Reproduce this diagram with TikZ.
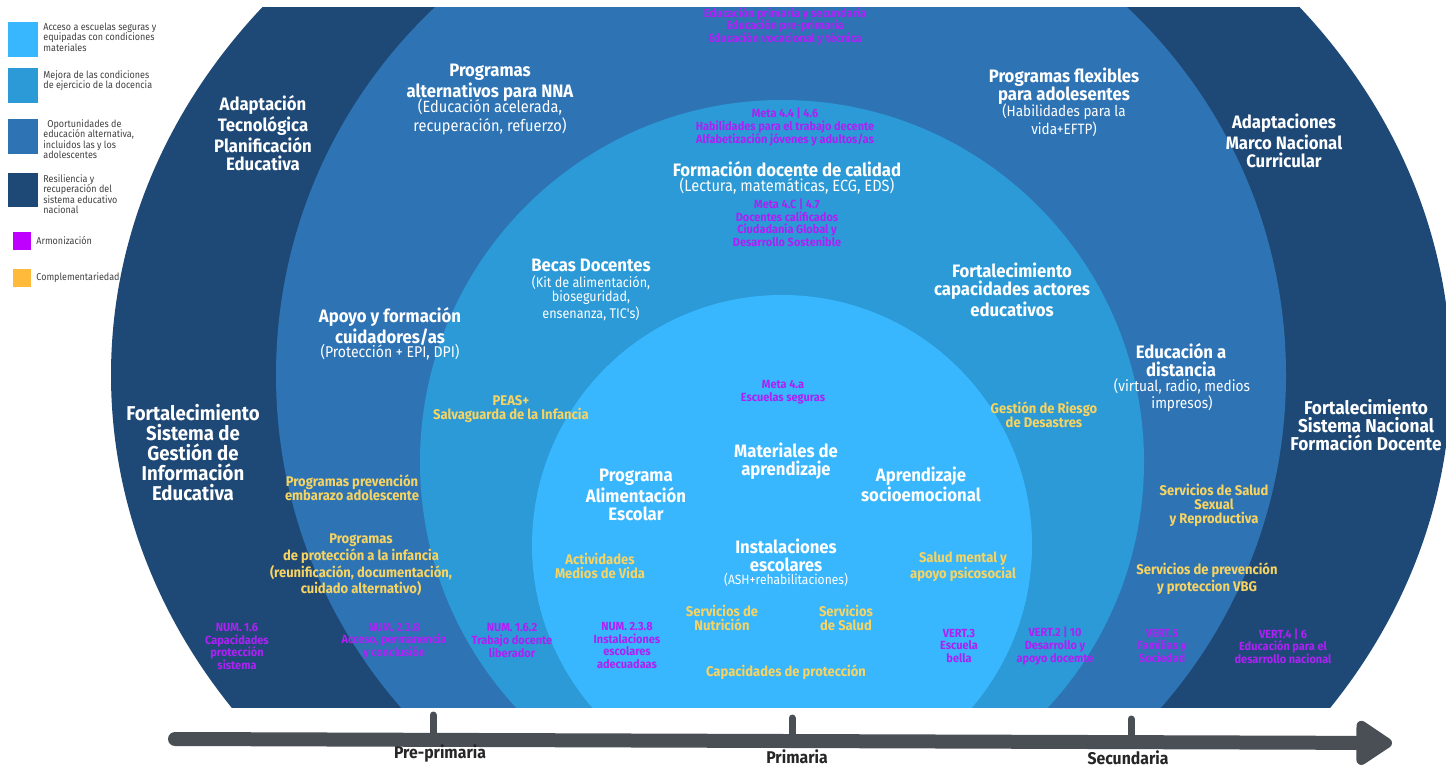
\documentclass[tikz,border=0pt]{standalone}
\usepackage{fontspec}
\setmainfont{Fira Sans}[FakeStretch=0.93]
\newfontfamily\subfont{Fira Sans}[FakeStretch=0.9]
\usepackage{tkz-euclide}
\usetikzlibrary{arrows.meta}

\definecolor{ringnavy}{HTML}{1E4976}
\definecolor{ringmid}{HTML}{2E74B5}
\definecolor{ringsky}{HTML}{2B9AD6}
\definecolor{ringlight}{HTML}{38B6FE}
\definecolor{harmony}{HTML}{AE20F5}
\definecolor{harmonysq}{HTML}{C000FF}
\definecolor{complement}{HTML}{F7D462}
\definecolor{complementsq}{HTML}{FFBA3B}
\definecolor{axisgray}{HTML}{4A4F56}

\tikzset{
    ringtitle/.style={text=white, font=\bfseries\fontsize{9}{9}\selectfont, align=center, inner sep=0pt},
    ringsub/.style={text=white, font=\subfont\fontsize{#1}{7.5}\selectfont, align=center, inner sep=0pt},
    ringsub/.default=8.1,
    metatext/.style={text=harmony, font=\bfseries\fontsize{5.9}{6.3}\selectfont, align=center, inner sep=0pt},
    comptext/.style={text=complement, font=\bfseries\fontsize{7}{7}\selectfont, align=center, inner sep=0pt},
    legtext/.style={text=black!75, font=\subfont\fontsize{5}{5.25}\selectfont, align=left, anchor=west, inner sep=0pt},
    stagetext/.style={text=black!85, font=\bfseries\fontsize{8.5}{8.5}\selectfont, inner sep=0pt}
}

\begin{document}
\begin{tikzpicture}[x=0.5pt, y=-0.5pt]
            \useasboundingbox (0,0) rectangle (1446,769);
            \begin{scope}
            \clip (0,8) rectangle (1446,708);
            \fill[ringnavy] (781,375) ellipse [x radius=670, y radius=581];
            \fill[ringmid] (781,375) circle [radius=505];
            \fill[ringsky] (782,462) circle [radius=362];
            \fill[ringlight] (782,545) circle [radius=250];
            \node[metatext] (edu) at (785,26) {Educación primaria y secundaria\\Educación pre-primaria\\Educación vocacional y técnica};
            \end{scope}
            \fill[ringlight] (8,22) rectangle (38,57);
            \fill[ringsky] (8,68) rectangle (38,103);
            \fill[ringmid] (8,119) rectangle (38,154);
            \fill[ringnavy] (8,173) rectangle (38,207);
            \fill[harmonysq] (13,232) rectangle (31,250);
            \fill[complementsq] (13,269) rectangle (31,287);
            \node[legtext] (leg1) at (43,37) {Acceso a escuelas seguras y\\equipadas con condiciones\\materiales};
            \node[legtext] (leg2) at (43,80.5) {Mejora de las condiciones\\de ejercicio de la docencia};
            \node[legtext] (leg3) at (43,139) {\hspace{2pt}Oportunidades de\\educación alternativa,\\incluidos las y los\\adolescentes};
            \node[legtext] (leg4) at (43,194) {Resiliencia y\\recuperación del\\sistema educativo\\nacional};
            \node[legtext] (leg5) at (36,241) {Armonización};
            \node[legtext] (leg6) at (36,278) {Complementariedad};
            \node[ringtitle] (adapt) at (263,133) {Adaptación\\Tecnológica\\Planificación\\Educativa};
            \node[ringtitle, font=\bfseries\fontsize{10}{10}\selectfont] (sigie) at (193,453) {Fortalecimiento\\Sistema de\\Gestión de\\Información\\Educativa};
            \node[ringtitle] (marco) at (1284,141) {Adaptaciones\\Marco Nacional\\Curricular};
            \node[ringtitle, font=\bfseries\fontsize{9.3}{9}\selectfont] (snfd) at (1366,425) {Fortalecimiento\\Sistema Nacional\\Formación Docente};
            \node[ringtitle] (alt) at (490,82.5) {Programas\\alternativos para NNA};
            \node[ringsub] (altsub) at (490,117) {(Educación acelerada,\\recuperación, refuerzo)};
            \node[ringtitle] (flex) at (1064,86) {Programas flexibles\\para adolesentes};
            \node[ringsub=7.5] (flexsub) at (1064,120.5) {(Habilidades para la\\vida+EFTP)};
            \node[ringtitle] (apoyo) at (390,326.5) {Apoyo y formación\\cuidadores/as};
            \node[ringsub=7.8] (apoyosub) at (390,352) {(Protección + EPI, DPI)};
            \node[ringtitle] (dist) at (1181,360.5) {Educación a\\distancia};
            \node[ringsub=7.6] (distsub) at (1182,395) {(virtual, radio, medios\\impresos)};
            \node[ringtitle] (formdoc) at (787,169) {Formación docente de calidad};
            \node[ringsub] (formdocsub) at (787,186) {(Lectura, matemáticas, ECG, EDS)};
            \node[ringtitle] (becas) at (591,265) {Becas Docentes};
            \node[ringsub=7, font=\subfont\fontsize{7}{7}\selectfont] (becassub) at (591,298) {(Kit de alimentación,\\bioseguridad,\\ensenanza, TIC's)};
            \node[ringtitle] (fortcap) at (1012,290) {Fortalecimiento\\capacidades actores\\educativos};
            \node[ringtitle] (mat) at (786,461) {Materiales de\\aprendizaje};
            \node[ringtitle] (pae) at (636,495) {Programa\\Alimentación\\Escolar};
            \node[ringtitle] (socio) at (921,484.5) {Aprendizaje\\socioemocional};
            \node[ringtitle] (inst) at (786,555.5) {Instalaciones\\escolares};
            \node[ringsub=6.7] (instsub) at (786,580) {(ASH+rehabilitaciones)};
            \node[metatext] (m44) at (785,127) {Meta 4.4 | 4.6\\Habilidades para el trabajo decente\\Alfabetización jóvenes y adultos/as};
            \node[metatext] (m4c) at (787,223) {Meta 4.C | 4.7\\Docentes calificados\\Ciudadanía Global y\\Desarrollo Sostenible};
            \node[metatext] (m4a) at (783,392) {Meta 4.a\\Escuelas seguras};
            \node[metatext] (num16) at (237,646.5) {NUM. 1.6\\Capacidades\\protección\\sistema};
            \node[metatext] (num238) at (394,641) {NUM. 2.3.8\\Acceso, permanencia\\y conclusión};
            \node[metatext] (num162) at (512,640.5) {NUM. 1.6.2\\Trabajo docente\\liberador};
            \node[metatext] (num238b) at (627,645.5) {NUM. 2.3.8\\Instalaciones\\escolares\\adecuadaas};
            \node[metatext] (vert3) at (959,646) {VERT.3\\Escuela\\bella};
            \node[metatext] (vert2) at (1055,646) {VERT.2 | 10\\Desarrollo y\\apoyo docemte};
            \node[metatext] (vert5) at (1162,646) {VERT.5\\Familias y\\Sociedad};
            \node[metatext] (vert4) at (1283,646) {VERT.4 | 6\\Educación para el\\desarrollo nacional};
            \node[comptext] (peas) at (511,409.5) {PEAS+\\Salvaguarda de la Infancia};
            \node[comptext] (riesgo) at (1044,415) {Gestión de Riesgo\\de Desastres};
            \node[comptext] (embarazo) at (352,488) {Programas prevención\\embarazo adolescente};
            \node[comptext] (infancia) at (361,565) {Programas\\de protección a la infancia\\(reunificación, documentación,\\cuidado alternativo)};
            \node[comptext] (ssr) at (1214,505) {Servicios de Salud\\Sexual\\y Reproductiva};
            \node[comptext] (vbg) at (1207,578.5) {Servicios de prevención\\y proteccion VBG};
            \node[comptext] (psico) at (963,566.5) {Salud mental y\\apoyo psicosocial};
            \node[comptext] (vida) at (600,566) {Actividades\\Medios de Vida};
            \node[comptext] (nutri) at (722,618) {Servicios de\\Nutrición};
            \node[comptext] (salud) at (846,618) {Servicios\\de Salud};
            \node[comptext] (capac) at (786,672) {Capacidades de protección};
            \tkzDefPoints{175/739/L, 1392/743/R, 433/715/A, 433/738/A', 792/718/B,
                          792/740/B', 1131/719/C, 1131/741/C'}
            \draw[axisgray, line width=3.5pt, line cap=round] (A) -- (A');
            \draw[axisgray, line width=3.5pt, line cap=round] (B) -- (B');
            \draw[axisgray, line width=3.5pt, line cap=round] (C) -- (C');
            \draw[axisgray, line width=7pt, line cap=round,
                  -{Triangle[length=20pt, width=25pt, round]}] (L) -- (R);
            \node[stagetext] (pre) at (440,753) {Pre-primaria};
            \node[stagetext] (prim) at (797,757) {Primaria};
            \node[stagetext] (sec) at (1128,758) {Secundaria};
\end{tikzpicture}
\end{document}
